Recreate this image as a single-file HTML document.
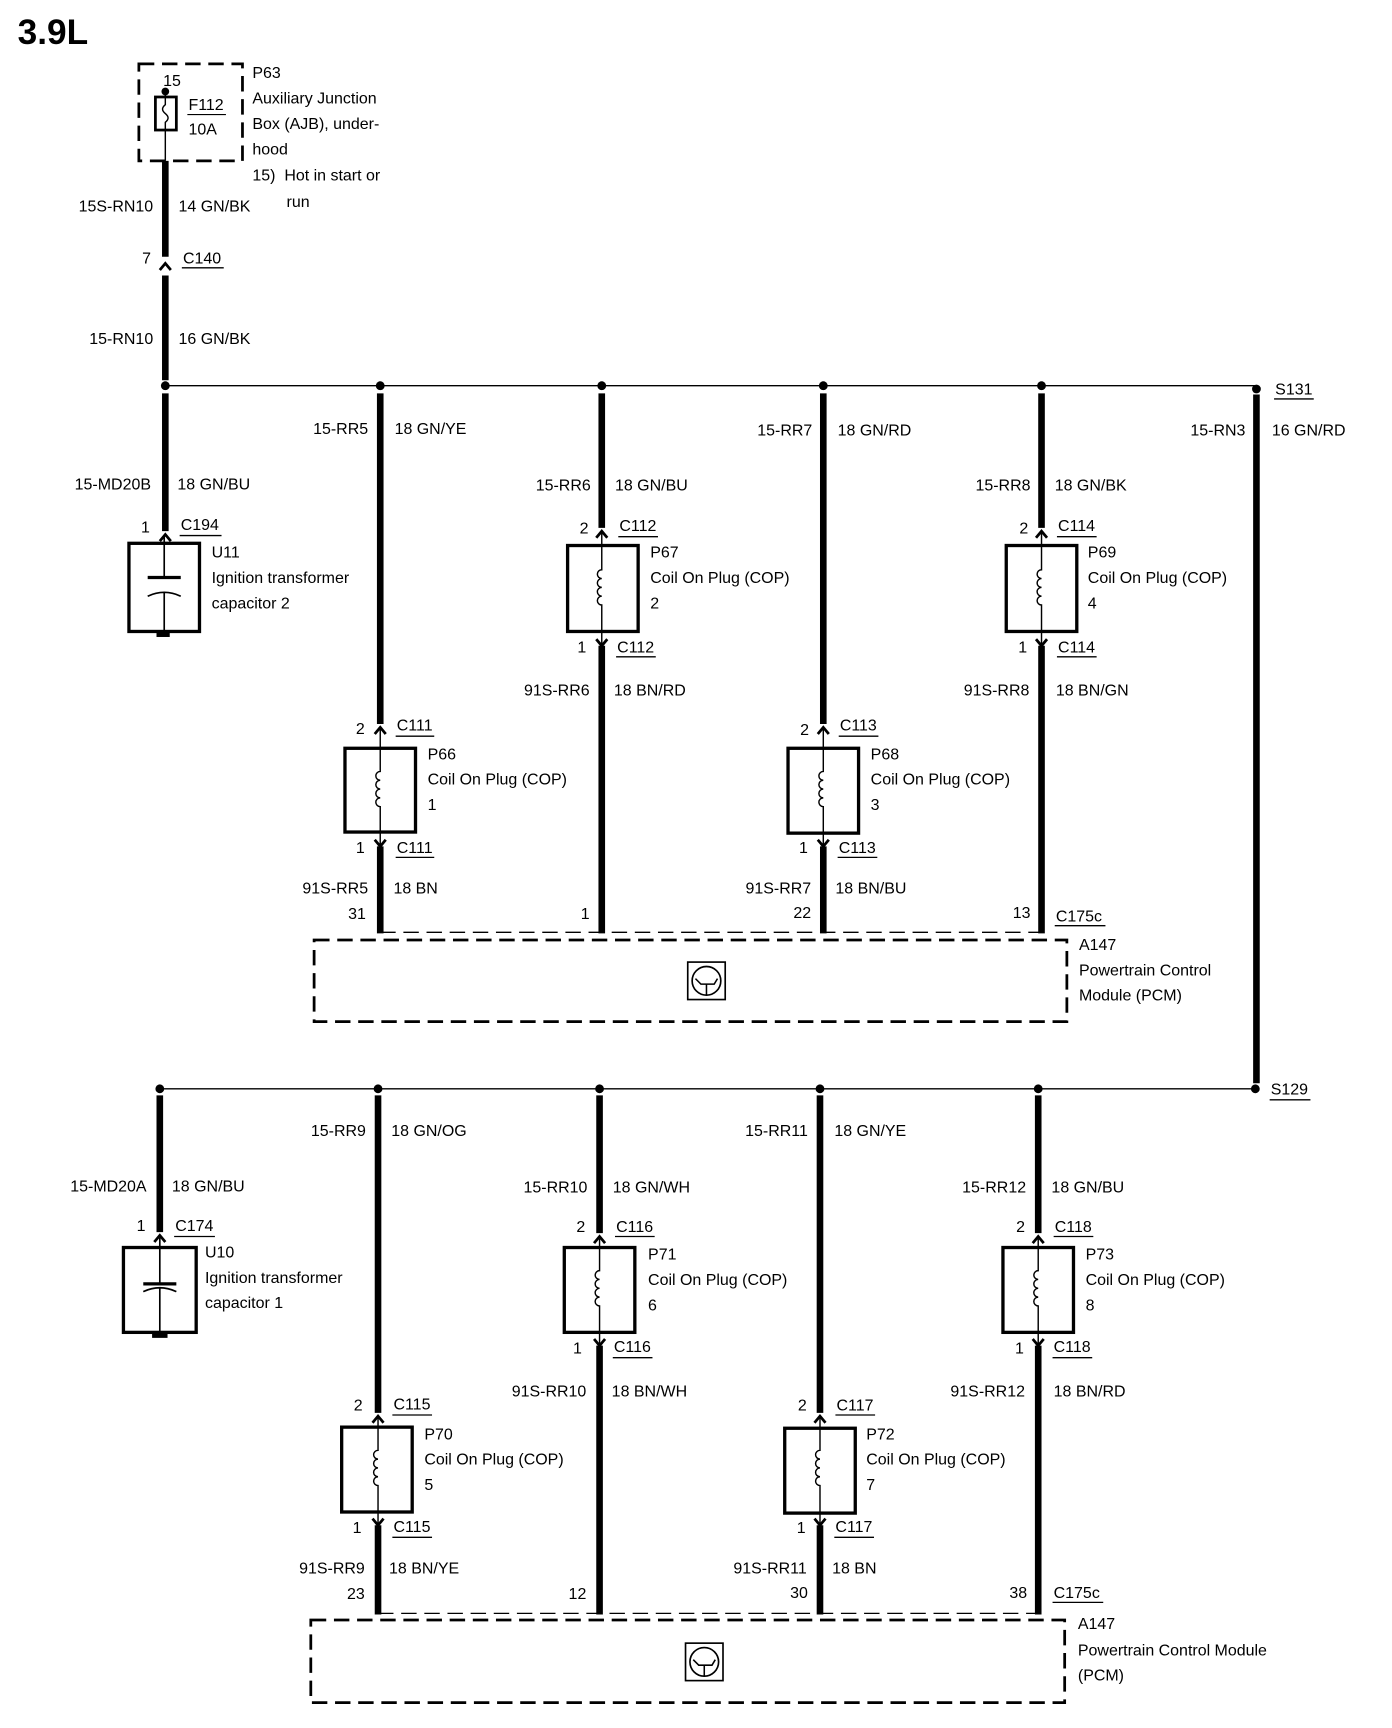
<!DOCTYPE html>
<html><head><meta charset="utf-8"><style>
html,body{margin:0;padding:0;background:#fff;}
svg{display:block;}
text{font-family:"Liberation Sans",sans-serif;font-size:14.5px;fill:#000;}
.r{text-anchor:end;}
.t{fill:none;stroke:#000;}
</style></head><body>
<svg width="1392" height="1728" viewBox="0 0 1263 1568" preserveAspectRatio="none" xmlns="http://www.w3.org/2000/svg">
<rect width="1263" height="1568" fill="#fff"/>
<text x="16" y="40" style="font-size:32px;font-weight:bold">3.9L</text>

<!-- Fuse box -->
<rect x="126" y="58" width="94" height="88" class="t" stroke-width="2.5" stroke-dasharray="14,7"/>
<rect x="141" y="88" width="19" height="30" class="t" stroke-width="2.5"/>
<path d="M150,84 L150,95 q-5,4 0,8 q5,4 0,8 L150,146" class="t" stroke-width="1.3"/>
<circle cx="150" cy="83" r="3.5"/>
<text x="148" y="78">15</text>
<text x="171" y="100">F112</text>
<line x1="170" y1="104" x2="205" y2="104" stroke="#000" stroke-width="1"/>
<text x="171" y="122">10A</text>
<text x="229" y="71">P63</text>
<text x="229" y="94">Auxiliary Junction</text>
<text x="229" y="117">Box (AJB), under-</text>
<text x="229" y="140">hood</text>
<text x="229" y="164">15)&#160;&#160;Hot in start or</text>
<text x="260" y="188">run</text>

<!-- main feed -->
<line x1="150" y1="146" x2="150" y2="233" stroke="#000" stroke-width="6"/>
<path d="M145,245 L150,239 L155,245" class="t" stroke-width="2.5"/>
<line x1="150" y1="250" x2="150" y2="345" stroke="#000" stroke-width="6"/>
<text class="r" x="139" y="192">15S-RN10</text><text x="162" y="192">14 GN/BK</text>
<text class="r" x="137" y="239">7</text><text x="166" y="239">C140</text>
<line x1="165" y1="243" x2="203" y2="243" stroke="#000" stroke-width="1.2"/>
<text class="r" x="139" y="312">15-RN10</text><text x="162" y="312">16 GN/BK</text>

<!-- S131 bus -->
<line x1="150" y1="350" x2="1140" y2="350" stroke="#000" stroke-width="1.3"/>
<g fill="#000"><circle cx="150" cy="350" r="4"/><circle cx="345" cy="350" r="4"/><circle cx="546" cy="350" r="4"/><circle cx="747" cy="350" r="4"/><circle cx="945" cy="350" r="4"/><circle cx="1140" cy="353" r="4"/></g>
<text x="1157" y="358">S131</text><line x1="1156" y1="362" x2="1192" y2="362" stroke="#000" stroke-width="1.2"/>

<!-- U11 -->
<line x1="150" y1="357" x2="150" y2="482" stroke="#000" stroke-width="6"/>
<path d="M145,491 L150,485 L155,491" class="t" stroke-width="2.5"/>
<text class="r" x="137" y="444">15-MD20B</text><text x="161" y="444">18 GN/BU</text>
<text class="r" x="136" y="483">1</text><text x="164" y="481">C194</text>
<line x1="163" y1="486" x2="201" y2="486" stroke="#000" stroke-width="1.2"/>
<rect x="117" y="493" width="64" height="80" class="t" stroke-width="3"/>
<path d="M149,487 L149,524 M134,541 Q149,534 164,541 M149,537 L149,576" class="t" stroke-width="1.5"/>
<path d="M134,524 L164,524" class="t" stroke-width="3"/>
<rect x="142" y="574" width="12" height="4"/>
<text x="192" y="506">U11</text><text x="192" y="529">Ignition transformer</text><text x="192" y="552">capacitor 2</text>

<!-- column RR5 x=345 -->
<line x1="345" y1="357" x2="345" y2="657" stroke="#000" stroke-width="6"/>
<path d="M340,666 L345,660 L350,666" class="t" stroke-width="2.5"/>
<rect x="313" y="679" width="64" height="76" class="t" stroke-width="3"/>
<path d="M345,662 L345,700 a4,4 0 1 0 0,8 a4,4 0 1 0 0,8 a4,4 0 1 0 0,8 a4,4 0 1 0 0,8 L345,768" class="t" stroke-width="1.3"/>
<path d="M340,762 L345,768 L350,762" class="t" stroke-width="2.5"/>
<line x1="345" y1="768" x2="345" y2="847" stroke="#000" stroke-width="6"/>
<text class="r" x="334" y="394">15-RR5</text><text x="358" y="394">18 GN/YE</text>
<text class="r" x="331" y="666">2</text><text x="360" y="663">C111</text><line x1="359" y1="668" x2="394" y2="668" stroke="#000" stroke-width="1.2"/>
<text x="388" y="689">P66</text><text x="388" y="712">Coil On Plug (COP)</text><text x="388" y="735">1</text>
<text class="r" x="331" y="774">1</text><text x="360" y="774">C111</text><line x1="359" y1="778" x2="394" y2="778" stroke="#000" stroke-width="1.2"/>
<text class="r" x="334" y="811">91S-RR5</text><text x="357" y="811">18 BN</text>
<text class="r" x="332" y="834">31</text>

<!-- column RR6 x=546 -->
<line x1="546" y1="357" x2="546" y2="479" stroke="#000" stroke-width="6"/>
<path d="M541,488 L546,482 L551,488" class="t" stroke-width="2.5"/>
<rect x="515" y="495" width="64" height="78" class="t" stroke-width="3"/>
<path d="M546,484 L546,517 a4,4 0 1 0 0,8 a4,4 0 1 0 0,8 a4,4 0 1 0 0,8 a4,4 0 1 0 0,8 L546,586" class="t" stroke-width="1.3"/>
<path d="M541,580 L546,586 L551,580" class="t" stroke-width="2.5"/>
<line x1="546" y1="586" x2="546" y2="847" stroke="#000" stroke-width="6"/>
<text class="r" x="536" y="445">15-RR6</text><text x="558" y="445">18 GN/BU</text>
<text class="r" x="534" y="484">2</text><text x="562" y="482">C112</text><line x1="561" y1="487" x2="597" y2="487" stroke="#000" stroke-width="1.2"/>
<text x="590" y="506">P67</text><text x="590" y="529">Coil On Plug (COP)</text><text x="590" y="552">2</text>
<text class="r" x="532" y="592">1</text><text x="560" y="592">C112</text><line x1="559" y1="596" x2="595" y2="596" stroke="#000" stroke-width="1.2"/>
<text class="r" x="535" y="631">91S-RR6</text><text x="557" y="631">18 BN/RD</text>
<text class="r" x="535" y="834">1</text>

<!-- column RR7 x=747 -->
<line x1="747" y1="357" x2="747" y2="657" stroke="#000" stroke-width="6"/>
<path d="M742,666 L747,660 L752,666" class="t" stroke-width="2.5"/>
<rect x="715" y="679" width="64" height="77" class="t" stroke-width="3"/>
<path d="M747,662 L747,700 a4,4 0 1 0 0,8 a4,4 0 1 0 0,8 a4,4 0 1 0 0,8 a4,4 0 1 0 0,8 L747,768" class="t" stroke-width="1.3"/>
<path d="M742,762 L747,768 L752,762" class="t" stroke-width="2.5"/>
<line x1="747" y1="768" x2="747" y2="847" stroke="#000" stroke-width="6"/>
<text class="r" x="737" y="395">15-RR7</text><text x="760" y="395">18 GN/RD</text>
<text class="r" x="734" y="667">2</text><text x="762" y="663">C113</text><line x1="761" y1="668" x2="797" y2="668" stroke="#000" stroke-width="1.2"/>
<text x="790" y="689">P68</text><text x="790" y="712">Coil On Plug (COP)</text><text x="790" y="735">3</text>
<text class="r" x="733" y="774">1</text><text x="761" y="774">C113</text><line x1="760" y1="778" x2="796" y2="778" stroke="#000" stroke-width="1.2"/>
<text class="r" x="736" y="811">91S-RR7</text><text x="758" y="811">18 BN/BU</text>
<text class="r" x="736" y="833">22</text>

<!-- column RR8 x=945 -->
<line x1="945" y1="357" x2="945" y2="479" stroke="#000" stroke-width="6"/>
<path d="M940,488 L945,482 L950,488" class="t" stroke-width="2.5"/>
<rect x="913" y="495" width="64" height="78" class="t" stroke-width="3"/>
<path d="M945,484 L945,517 a4,4 0 1 0 0,8 a4,4 0 1 0 0,8 a4,4 0 1 0 0,8 a4,4 0 1 0 0,8 L945,586" class="t" stroke-width="1.3"/>
<path d="M940,580 L945,586 L950,580" class="t" stroke-width="2.5"/>
<line x1="945" y1="586" x2="945" y2="847" stroke="#000" stroke-width="6"/>
<text class="r" x="935" y="445">15-RR8</text><text x="957" y="445">18 GN/BK</text>
<text class="r" x="933" y="484">2</text><text x="960" y="482">C114</text><line x1="959" y1="487" x2="995" y2="487" stroke="#000" stroke-width="1.2"/>
<text x="987" y="506">P69</text><text x="987" y="529">Coil On Plug (COP)</text><text x="987" y="552">4</text>
<text class="r" x="932" y="592">1</text><text x="960" y="592">C114</text><line x1="959" y1="596" x2="995" y2="596" stroke="#000" stroke-width="1.2"/>
<text class="r" x="934" y="631">91S-RR8</text><text x="958" y="631">18 BN/GN</text>
<text class="r" x="935" y="833">13</text>
<text x="958" y="836">C175c</text><line x1="957" y1="840" x2="1003" y2="840" stroke="#000" stroke-width="1.2"/>

<!-- RN3 x=1140 -->
<line x1="1140" y1="358" x2="1140" y2="983" stroke="#000" stroke-width="6"/>
<text class="r" x="1130" y="395">15-RN3</text><text x="1154" y="395">16 GN/RD</text>

<!-- PCM top -->
<line x1="345" y1="846" x2="945" y2="846" stroke="#000" stroke-width="1.2" stroke-dasharray="14,7"/>
<rect x="285" y="853" width="683" height="74" class="t" stroke-width="2.5" stroke-dasharray="14,7"/>
<rect x="624" y="873" width="34" height="34" class="t" stroke-width="1.5"/>
<circle cx="641" cy="890" r="13" class="t" stroke-width="1.5"/>
<path d="M631,888 L636,893 L648,893 L651,888 M641,893 L641,903" class="t" stroke-width="1.4"/>
<text x="979" y="862">A147</text><text x="979" y="885">Powertrain Control</text><text x="979" y="908">Module (PCM)</text>

<!-- S129 bus -->
<line x1="145" y1="988" x2="1138" y2="988" stroke="#000" stroke-width="1.3"/>
<g fill="#000"><circle cx="145" cy="988" r="4"/><circle cx="343" cy="988" r="4"/><circle cx="544" cy="988" r="4"/><circle cx="744" cy="988" r="4"/><circle cx="942" cy="988" r="4"/><circle cx="1139" cy="988" r="4"/></g>
<text x="1153" y="993">S129</text><line x1="1152" y1="998" x2="1189" y2="998" stroke="#000" stroke-width="1.2"/>

<!-- U10 -->
<line x1="145" y1="994" x2="145" y2="1118" stroke="#000" stroke-width="6"/>
<path d="M140,1127 L145,1121 L150,1127" class="t" stroke-width="2.5"/>
<text class="r" x="133" y="1081">15-MD20A</text><text x="156" y="1081">18 GN/BU</text>
<text class="r" x="132" y="1117">1</text><text x="159" y="1117">C174</text><line x1="158" y1="1122" x2="195" y2="1122" stroke="#000" stroke-width="1.2"/>
<rect x="112" y="1132" width="66" height="77" class="t" stroke-width="3"/>
<path d="M145,1123 L145,1165 M130,1172 Q145,1165 160,1172 M145,1168 L145,1212" class="t" stroke-width="1.5"/>
<path d="M130,1165 L160,1165" class="t" stroke-width="3"/>
<rect x="138" y="1210" width="14" height="4"/>
<text x="186" y="1141">U10</text><text x="186" y="1164">Ignition transformer</text><text x="186" y="1187">capacitor 1</text>

<!-- RR9 x=343 -->
<line x1="343" y1="994" x2="343" y2="1282" stroke="#000" stroke-width="6"/>
<path d="M338,1291 L343,1285 L348,1291" class="t" stroke-width="2.5"/>
<rect x="310" y="1295" width="64" height="77" class="t" stroke-width="3"/>
<path d="M343,1287 L343,1316 a4,4 0 1 0 0,8 a4,4 0 1 0 0,8 a4,4 0 1 0 0,8 a4,4 0 1 0 0,8 L343,1384" class="t" stroke-width="1.3"/>
<path d="M338,1378 L343,1384 L348,1378" class="t" stroke-width="2.5"/>
<line x1="343" y1="1384" x2="343" y2="1465" stroke="#000" stroke-width="6"/>
<text class="r" x="332" y="1031">15-RR9</text><text x="355" y="1031">18 GN/OG</text>
<text class="r" x="329" y="1280">2</text><text x="357" y="1279">C115</text><line x1="356" y1="1284" x2="392" y2="1284" stroke="#000" stroke-width="1.2"/>
<text x="385" y="1306">P70</text><text x="385" y="1329">Coil On Plug (COP)</text><text x="385" y="1352">5</text>
<text class="r" x="328" y="1391">1</text><text x="357" y="1390">C115</text><line x1="356" y1="1395" x2="392" y2="1395" stroke="#000" stroke-width="1.2"/>
<text class="r" x="331" y="1428">91S-RR9</text><text x="353" y="1428">18 BN/YE</text>
<text class="r" x="331" y="1451">23</text>

<!-- RR10 x=544 -->
<line x1="544" y1="994" x2="544" y2="1119" stroke="#000" stroke-width="6"/>
<path d="M539,1128 L544,1122 L549,1128" class="t" stroke-width="2.5"/>
<rect x="512" y="1132" width="64" height="77" class="t" stroke-width="3"/>
<path d="M544,1124 L544,1153 a4,4 0 1 0 0,8 a4,4 0 1 0 0,8 a4,4 0 1 0 0,8 a4,4 0 1 0 0,8 L544,1221" class="t" stroke-width="1.3"/>
<path d="M539,1215 L544,1221 L549,1215" class="t" stroke-width="2.5"/>
<line x1="544" y1="1221" x2="544" y2="1465" stroke="#000" stroke-width="6"/>
<text class="r" x="533" y="1082">15-RR10</text><text x="556" y="1082">18 GN/WH</text>
<text class="r" x="531" y="1118">2</text><text x="559" y="1118">C116</text><line x1="558" y1="1122" x2="594" y2="1122" stroke="#000" stroke-width="1.2"/>
<text x="588" y="1143">P71</text><text x="588" y="1166">Coil On Plug (COP)</text><text x="588" y="1189">6</text>
<text class="r" x="528" y="1228">1</text><text x="557" y="1227">C116</text><line x1="556" y1="1232" x2="592" y2="1232" stroke="#000" stroke-width="1.2"/>
<text class="r" x="532" y="1267">91S-RR10</text><text x="555" y="1267">18 BN/WH</text>
<text class="r" x="532" y="1451">12</text>

<!-- RR11 x=744 -->
<line x1="744" y1="994" x2="744" y2="1282" stroke="#000" stroke-width="6"/>
<path d="M739,1291 L744,1285 L749,1291" class="t" stroke-width="2.5"/>
<rect x="712" y="1296" width="64" height="77" class="t" stroke-width="3"/>
<path d="M744,1287 L744,1316 a4,4 0 1 0 0,8 a4,4 0 1 0 0,8 a4,4 0 1 0 0,8 a4,4 0 1 0 0,8 L744,1384" class="t" stroke-width="1.3"/>
<path d="M739,1378 L744,1384 L749,1378" class="t" stroke-width="2.5"/>
<line x1="744" y1="1384" x2="744" y2="1465" stroke="#000" stroke-width="6"/>
<text class="r" x="733" y="1031">15-RR11</text><text x="757" y="1031">18 GN/YE</text>
<text class="r" x="732" y="1280">2</text><text x="759" y="1280">C117</text><line x1="758" y1="1284" x2="794" y2="1284" stroke="#000" stroke-width="1.2"/>
<text x="786" y="1306">P72</text><text x="786" y="1329">Coil On Plug (COP)</text><text x="786" y="1352">7</text>
<text class="r" x="731" y="1391">1</text><text x="758" y="1390">C117</text><line x1="757" y1="1395" x2="793" y2="1395" stroke="#000" stroke-width="1.2"/>
<text class="r" x="732" y="1428">91S-RR11</text><text x="755" y="1428">18 BN</text>
<text class="r" x="733" y="1450">30</text>

<!-- RR12 x=942 -->
<line x1="942" y1="994" x2="942" y2="1119" stroke="#000" stroke-width="6"/>
<path d="M937,1128 L942,1122 L947,1128" class="t" stroke-width="2.5"/>
<rect x="910" y="1132" width="64" height="77" class="t" stroke-width="3"/>
<path d="M942,1124 L942,1153 a4,4 0 1 0 0,8 a4,4 0 1 0 0,8 a4,4 0 1 0 0,8 a4,4 0 1 0 0,8 L942,1221" class="t" stroke-width="1.3"/>
<path d="M937,1215 L942,1221 L947,1215" class="t" stroke-width="2.5"/>
<line x1="942" y1="1221" x2="942" y2="1465" stroke="#000" stroke-width="6"/>
<text class="r" x="931" y="1082">15-RR12</text><text x="954" y="1082">18 GN/BU</text>
<text class="r" x="930" y="1118">2</text><text x="957" y="1118">C118</text><line x1="956" y1="1122" x2="992" y2="1122" stroke="#000" stroke-width="1.2"/>
<text x="985" y="1143">P73</text><text x="985" y="1166">Coil On Plug (COP)</text><text x="985" y="1189">8</text>
<text class="r" x="929" y="1228">1</text><text x="956" y="1227">C118</text><line x1="955" y1="1232" x2="991" y2="1232" stroke="#000" stroke-width="1.2"/>
<text class="r" x="930" y="1267">91S-RR12</text><text x="956" y="1267">18 BN/RD</text>
<text class="r" x="932" y="1450">38</text>
<text x="956" y="1450">C175c</text><line x1="955" y1="1454" x2="1001" y2="1454" stroke="#000" stroke-width="1.2"/>

<!-- PCM bottom -->
<line x1="343" y1="1464" x2="942" y2="1464" stroke="#000" stroke-width="1.2" stroke-dasharray="14,7"/>
<rect x="282" y="1470" width="684" height="75" class="t" stroke-width="2.5" stroke-dasharray="14,7"/>
<rect x="622" y="1491" width="34" height="34" class="t" stroke-width="1.5"/>
<circle cx="639" cy="1508" r="13" class="t" stroke-width="1.5"/>
<path d="M629,1506 L634,1511 L646,1511 L649,1506 M639,1511 L639,1521" class="t" stroke-width="1.4"/>
<text x="978" y="1478">A147</text><text x="978" y="1502">Powertrain Control Module</text><text x="978" y="1525">(PCM)</text>
</svg>
</body></html>
